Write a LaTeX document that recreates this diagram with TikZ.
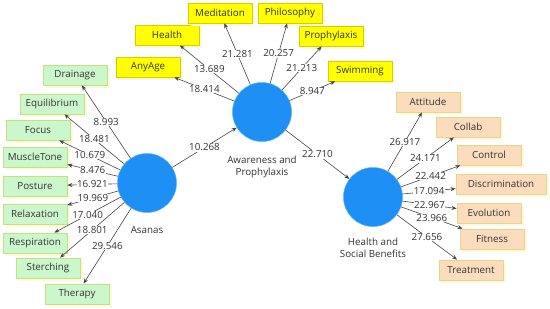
\documentclass[tikz,border=0pt]{standalone}
\usepackage{fontspec}
\setmainfont{Open Sans}
\usetikzlibrary{arrows.meta,shadows}
\definecolor{lv}{HTML}{1E8FF5}
\definecolor{lvb}{HTML}{5AB0F0}
\definecolor{gfill}{HTML}{CCF7CC}
\definecolor{gdraw}{HTML}{C2E27A}
\definecolor{yfill}{HTML}{FFFF00}
\definecolor{ydraw}{HTML}{D8CC00}
\definecolor{pfill}{HTML}{FBDDBD}
\definecolor{pdraw}{HTML}{E6D68A}
\definecolor{shd}{HTML}{FCF9DE}
\definecolor{txt}{HTML}{333333}
\definecolor{ln}{HTML}{444444}
\tikzset{
  lat/.style={circle, fill=lv, draw=lvb, line width=0.5bp, minimum size=59bp, inner sep=0pt},
  ind/.style={rectangle, minimum width=64bp, minimum height=20bp, inner sep=1bp, line width=0.8bp,
     font=\fontsize{9.8bp}{11bp}\selectfont, text=txt,
     drop shadow={fill=shd, opacity=1, shadow xshift=3bp, shadow yshift=-3bp}},
  gbox/.style={ind, fill=gfill, draw=gdraw},
  ybox/.style={ind, fill=yfill, draw=ydraw},
  pbox/.style={ind, fill=pfill, draw=pdraw},
  con/.style={draw=ln, line width=0.6bp, -{Stealth[length=5bp,width=4bp]}},
  val/.style={midway, fill=white, inner sep=0.5bp, text=txt, font=\fontsize{9.8bp}{11bp}\selectfont},
  latlabel/.style={text=txt, font=\fontsize{9.8bp}{12.5bp}\selectfont, align=center, inner sep=0pt}
}
\begin{document}
\begin{tikzpicture}[x=1bp,y=-1bp]
\useasboundingbox (0,0) rectangle (550,308);
% latent variables
\node[lat] (as) at (147,183) {};
\node[lat] (aw) at (262,112) {};
\node[lat] (hs) at (373,197) {};
\node[latlabel] (asl) at (147,230) {Asanas};
\node[latlabel] (awl) at (262,167) {Awareness and\\Prophylaxis};
\node[latlabel] (hsl) at (373,248) {Health and\\Social Benefits};
% Asanas indicators
\node[gbox] (dr) at (75,75) {Drainage};
\node[gbox] (eq) at (52,104) {Equilibrium};
\node[gbox] (fo) at (38,130) {Focus};
\node[gbox] (mt) at (35,157) {MuscleTone};
\node[gbox] (po) at (35,186) {Posture};
\node[gbox] (re) at (35,214) {Relaxation};
\node[gbox] (rs) at (35,243) {Respiration};
\node[gbox] (st) at (48,268) {Sterching};
\node[gbox] (th) at (77,294) {Therapy};
% Awareness indicators
\node[ybox] (an) at (148,67) {AnyAge};
\node[ybox] (he) at (167,35) {Health};
\node[ybox] (me) at (220,13) {Meditation};
\node[ybox] (ph) at (290,13) {Philosophy};
\node[ybox] (pr) at (331,36) {Prophylaxis};
\node[ybox] (sw) at (360,71) {Swimming};
% Health indicators
\node[pbox] (at) at (428,102) {Attitude};
\node[pbox] (co) at (468,127) {Collab};
\node[pbox] (ct) at (489,155) {Control};
\node[pbox, minimum width=90bp] (di) at (501,184) {Discrimination};
\node[pbox] (ev) at (489,213) {Evolution};
\node[pbox] (fi) at (492,239) {Fitness};
\node[pbox] (tr) at (471,270) {Treatment};
% connectors
\draw[con] (as) -- node[val] {8.993} (dr);
\draw[con] (as) -- node[val] {18.481} (eq);
\draw[con] (as) -- node[val] {10.679} (fo);
\draw[con] (as) -- node[val] {8.476} (mt);
\draw[con] (as) -- node[val] {16.921} (po);
\draw[con] (as) -- node[val] {19.969} (re);
\draw[con] (as) -- node[val] {17.040} (rs);
\draw[con] (as) -- node[val] {18.801} (st);
\draw[con] (as) -- node[val] {29.546} (th);
\draw[con] (aw) -- node[val] {18.414} (an);
\draw[con] (aw) -- node[val] {13.689} (he);
\draw[con] (aw) -- node[val] {21.281} (me);
\draw[con] (aw) -- node[val] {20.257} (ph);
\draw[con] (aw) -- node[val] {21.213} (pr);
\draw[con] (aw) -- node[val] {8.947} (sw);
\draw[con] (hs) -- node[val] {26.917} (at);
\draw[con] (hs) -- node[val] {24.171} (co);
\draw[con] (hs) -- node[val] {22.442} (ct);
\draw[con] (hs) -- node[val] {17.094} (di);
\draw[con] (hs) -- node[val] {22.967} (ev);
\draw[con] (hs) -- node[val] {23.966} (fi);
\draw[con] (hs) -- node[val] {27.656} (tr);
\draw[con] (as) -- node[val] {10.268} (aw);
\draw[con] (aw) -- node[val] {22.710} (hs);
\end{tikzpicture}
\end{document}
